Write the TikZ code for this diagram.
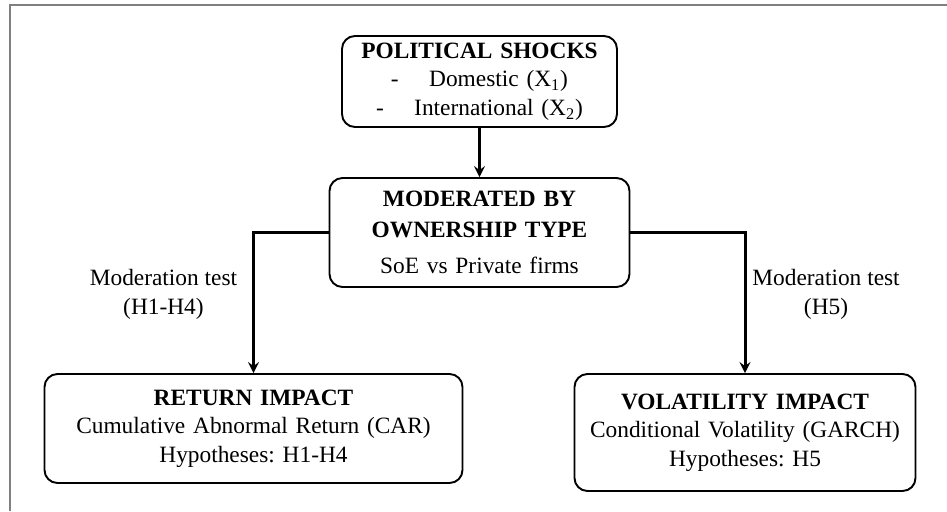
\documentclass[tikz,border=0pt]{standalone}
\usepackage{fontspec}
\setmainfont{Liberation Serif}
\usetikzlibrary{shapes.geometric, arrows, calc}
\tikzstyle{block} = [rectangle, rounded corners=0.26cm, line width=1.1pt, text centered, draw=black, inner sep=0pt, font=\fontsize{13.3}{16.2}\selectfont]
\tikzstyle{testnote} = [align=center, font=\fontsize{13.3}{16.2}\selectfont]
\tikzstyle{arrow} = [line width=1.7pt,->,>=stealth]
\frenchspacing

\begin{document}
\begin{tikzpicture}[node distance=3.02cm]
\useasboundingbox (0,0) rectangle (18.94,-10.22);
\draw [gray, line width=0.8pt] (0.2,-10.22) -- (0.2,-0.1) -- (18.94,-0.1);

\node (shocks) [block, minimum width=5.5cm, minimum height=1.82cm, text width=5.3cm] at (9.59,-1.63) {\textbf{POLITICAL SHOCKS}\\ -\hspace{1.3em}Domestic (X\textsubscript{1})\\ -\hspace{1.3em}International (X\textsubscript{2})};

\node (moderated) [block, below of=shocks, minimum width=6cm, minimum height=2.18cm, text width=5.8cm] {\textbf{MODERATED BY}\\[1.5pt] \textbf{OWNERSHIP TYPE}\\[4pt] SoE vs Private firms};

\node (returns) [block, below of=moderated, xshift=-4.52cm, yshift=-0.9cm, minimum width=8.36cm, minimum height=2.18cm, text width=8cm] {\textbf{RETURN IMPACT}\\ Cumulative Abnormal Return (CAR)\\ Hypotheses: H1-H4};

\node (volatility) [block, below of=moderated, xshift=5.31cm, yshift=-0.98cm, minimum width=6.82cm, minimum height=2.34cm, text width=6.6cm] {\textbf{VOLATILITY IMPACT}\\ Conditional Volatility (GARCH)\\ Hypotheses: H5};

\draw [arrow] (shocks) -- (moderated);
\draw [arrow] (moderated.west) -| node[testnote, left, pos=0.72, xshift=-0.18cm] {Moderation test\\(H1-H4)} (returns.north);
\draw [arrow] (moderated.east) -| node[testnote, right, pos=0.72] {Moderation test\\(H5)} (volatility.north);

\end{tikzpicture}
\end{document}
